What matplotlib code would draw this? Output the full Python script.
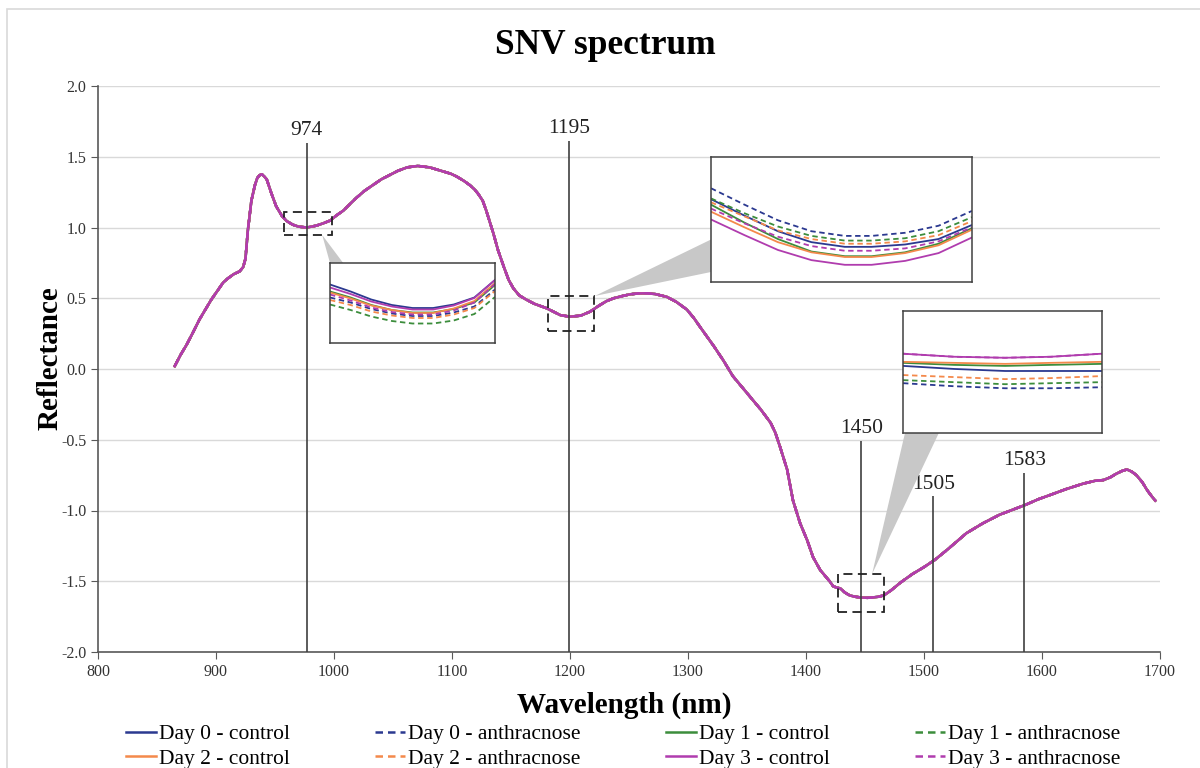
import numpy as np
import matplotlib.pyplot as plt
from matplotlib.patches import Rectangle, Polygon

plt.rcParams['font.family'] = ['Liberation Serif', 'DejaVu Serif']
plt.rcParams['axes.unicode_minus'] = False

# SNV spectrum (the eight series overlap at full scale)
wavelength = [865, 870, 875, 880, 886, 891, 896, 901, 906, 910, 915, 920, 923, 925, 927, 930,
              933, 935, 937, 939, 941, 943, 947, 951, 956, 960, 965, 970, 977, 985, 991, 997,
              1002, 1008, 1014, 1019, 1026, 1033, 1040, 1047, 1054, 1062, 1071, 1081, 1087,
              1093, 1099, 1104, 1110, 1115, 1119, 1122, 1126, 1129, 1132, 1135, 1139, 1144,
              1148, 1152, 1157, 1163, 1170, 1180, 1186, 1192, 1200, 1209, 1217, 1225, 1231,
              1237, 1244, 1251, 1258, 1265, 1272, 1282, 1290, 1299, 1305, 1310, 1316, 1322,
              1330, 1338, 1346, 1355, 1362, 1370, 1374, 1378, 1381, 1384, 1389, 1395, 1401,
              1406, 1412, 1417, 1420, 1423, 1426, 1429, 1433, 1437, 1442, 1447, 1452, 1456,
              1461, 1466, 1472, 1480, 1490, 1500, 1509, 1520, 1536, 1550, 1564, 1575, 1586,
              1597, 1607, 1620, 1635, 1645, 1652, 1658, 1663, 1668, 1672, 1676, 1680, 1685,
              1689, 1693, 1696]
snv = [0.02, 0.10, 0.17, 0.25, 0.35, 0.42, 0.49, 0.55, 0.61, 0.64, 0.67, 0.69, 0.72, 0.78, 0.98,
       1.19, 1.30, 1.35, 1.37, 1.375, 1.36, 1.34, 1.24, 1.15, 1.08, 1.045, 1.02, 1.006, 1.0,
       1.013, 1.03, 1.05, 1.085, 1.12, 1.17, 1.21, 1.26, 1.30, 1.34, 1.37, 1.40, 1.425, 1.435,
       1.425, 1.41, 1.395, 1.38, 1.36, 1.33, 1.30, 1.27, 1.24, 1.19, 1.12, 1.04, 0.96, 0.84,
       0.72, 0.63, 0.57, 0.52, 0.49, 0.46, 0.43, 0.405, 0.38, 0.37, 0.377, 0.405, 0.45, 0.48,
       0.50, 0.515, 0.528, 0.534, 0.535, 0.53, 0.51, 0.475, 0.42, 0.36, 0.30, 0.23, 0.16,
       0.06, -0.05, -0.13, -0.22, -0.29, -0.38, -0.45, -0.55, -0.63, -0.71, -0.93, -1.09, -1.21,
       -1.33, -1.42, -1.47, -1.50, -1.535, -1.545, -1.55, -1.58, -1.60, -1.61, -1.615, -1.617,
       -1.615, -1.61, -1.60, -1.565, -1.51, -1.45, -1.40, -1.35, -1.275, -1.16, -1.09, -1.03,
       -0.995, -0.96, -0.92, -0.89, -0.85, -0.81, -0.79, -0.785, -0.765, -0.74, -0.72, -0.71,
       -0.725, -0.75, -0.80, -0.855, -0.90, -0.93]

series = ['Day 0 - control', 'Day 0 - anthracnose', 'Day 1 - control', 'Day 1 - anthracnose',
          'Day 2 - control', 'Day 2 - anthracnose', 'Day 3 - control', 'Day 3 - anthracnose']
colors = ['#2b3990', '#2b3990', '#3c8d3c', '#3c8d3c', '#f4894b', '#f4894b', '#b03cae', '#b03cae']
styles = ['-', (0, (3, 2)), '-', (0, (3, 2)), '-', (0, (3, 2)), '-', (0, (3, 2))]

# marked bands
peak_labels = ['974', '1195', '1450', '1505', '1583']
peak_pos = [977, 1199, 1447, 1508, 1585]
peak_top = [1.60, 1.61, -0.51, -0.90, -0.735]

# zoomed details (same series order as above)
z1_x = [958, 963, 968, 973, 978, 983, 988, 993, 998]
z1_y = [
    [1.067, 1.053, 1.037, 1.026, 1.020, 1.020, 1.027, 1.041, 1.076],
    [1.041, 1.031, 1.018, 1.009, 1.004, 1.004, 1.011, 1.023, 1.057],
    [1.053, 1.041, 1.026, 1.016, 1.011, 1.011, 1.018, 1.031, 1.066],
    [1.027, 1.016, 1.003, 0.994, 0.989, 0.989, 0.995, 1.008, 1.042],
    [1.051, 1.039, 1.025, 1.016, 1.010, 1.010, 1.019, 1.034, 1.070],
    [1.036, 1.026, 1.013, 1.005, 1.000, 1.000, 1.007, 1.020, 1.054],
    [1.061, 1.048, 1.033, 1.023, 1.017, 1.017, 1.025, 1.040, 1.076],
    [1.047, 1.035, 1.021, 1.012, 1.007, 1.007, 1.015, 1.031, 1.068],
]
z2_x = [1182, 1187, 1192, 1197, 1202, 1206, 1211, 1216, 1221]
z2_y = [
    [0.436, 0.415, 0.395, 0.381, 0.375, 0.375, 0.378, 0.385, 0.403],
    [0.450, 0.429, 0.409, 0.395, 0.389, 0.389, 0.393, 0.402, 0.421],
    [0.429, 0.406, 0.385, 0.369, 0.363, 0.363, 0.368, 0.379, 0.399],
    [0.437, 0.418, 0.401, 0.389, 0.383, 0.383, 0.386, 0.395, 0.413],
    [0.420, 0.400, 0.381, 0.368, 0.362, 0.362, 0.367, 0.377, 0.397],
    [0.432, 0.414, 0.396, 0.385, 0.379, 0.379, 0.382, 0.390, 0.408],
    [0.410, 0.390, 0.371, 0.358, 0.352, 0.352, 0.357, 0.367, 0.387],
    [0.424, 0.405, 0.388, 0.376, 0.370, 0.370, 0.373, 0.382, 0.400],
]
z3_x = [1427, 1437, 1447, 1456, 1466]
z3_y = [
    [-1.614, -1.617, -1.619, -1.619, -1.619],
    [-1.631, -1.634, -1.636, -1.636, -1.635],
    [-1.611, -1.613, -1.614, -1.613, -1.612],
    [-1.628, -1.630, -1.632, -1.631, -1.630],
    [-1.610, -1.611, -1.612, -1.611, -1.610],
    [-1.623, -1.625, -1.627, -1.626, -1.624],
    [-1.602, -1.605, -1.606, -1.605, -1.602],
    [-1.602, -1.605, -1.606, -1.605, -1.602],
]

W, H = 1200, 768
fig = plt.figure(figsize=(12, 7.68), dpi=100)

def fbox(x0, y0, x1, y1):
    # pixel box -> figure fraction
    return [x0 / W, 1 - y1 / H, (x1 - x0) / W, (y1 - y0) / H]

ax = fig.add_axes(fbox(98, 86, 1160, 652))

for i in range(len(series)):
    ax.plot(wavelength, snv, color=colors[i], linestyle=styles[i], lw=1.8, label=series[i])

ax.set_xlim(800, 1700)
ax.set_ylim(-2, 2)
ax.set_xticks(range(800, 1701, 100))
ax.set_yticks(np.arange(-2, 2.01, 0.5))
ax.yaxis.set_major_formatter('{x:.1f}')
ax.grid(axis='y', color='#d9d9d9', lw=1)
ax.set_axisbelow(True)
for s in ['top', 'right']:
    ax.spines[s].set_visible(False)
for s in ['left', 'bottom']:
    ax.spines[s].set_color('#595959')
    ax.spines[s].set_linewidth(1.2)
ax.tick_params(direction='out', length=5, color='#595959', labelsize=11.5, labelcolor='#333333')

for lab, xp, top in zip(peak_labels, peak_pos, peak_top):
    ax.vlines(xp, -2, top, color='#404040', lw=1.2, zorder=3)
    ax.text(xp, top + 0.02, lab, ha='center', va='bottom', fontsize=15.5, color='#222222')

# dashed boxes and insets
zooms = [
    dict(rect=(958, 0.947, 998, 1.11), box=(330, 263, 495, 343), ylim=(0.95, 1.11),
         x=z1_x, y=z1_y, apex=(990, 0.947), edge='top', span=(0.0, 0.08)),
    dict(rect=(1181, 0.27, 1220, 0.516), box=(711, 157, 972, 282), ylim=(0.33, 0.49),
         x=z2_x, y=z2_y, apex=(1221, 0.516), edge='left', span=(0.08, 0.34)),
    dict(rect=(1427, -1.717, 1466, -1.449), box=(903, 311, 1102, 433), ylim=(-1.68, -1.56),
         x=z3_x, y=z3_y, apex=(1456, -1.449), edge='bottom', span=(0.01, 0.18)),
]

inv = fig.transFigure.inverted()
for z in zooms:
    x0, y0, x1, y1 = z['rect']
    ax.add_patch(Rectangle((x0, y0), x1 - x0, y1 - y0, fill=False, ec='#222222',
                           lw=1.3, ls=(0, (5, 3)), zorder=4))
    ins = fig.add_axes(fbox(*z['box']), zorder=5)
    for i in range(len(series)):
        ins.plot(z['x'], z['y'][i], color=colors[i], linestyle=styles[i], lw=1.3)
    ins.set_xlim(z['x'][0], z['x'][-1])
    ins.set_ylim(*z['ylim'])
    ins.set_xticks([])
    ins.set_yticks([])
    for sp in ins.spines.values():
        sp.set_color('#404040')
        sp.set_linewidth(1.1)

    # grey wedge from the dashed box to the inset
    ap = inv.transform(ax.transData.transform(z['apex']))
    p = ins.get_position()
    a, b = z['span']
    if z['edge'] == 'top':
        base = [(p.x0 + a * p.width, p.y1), (p.x0 + b * p.width, p.y1)]
    elif z['edge'] == 'bottom':
        base = [(p.x0 + a * p.width, p.y0), (p.x0 + b * p.width, p.y0)]
    else:
        base = [(p.x0, p.y0 + a * p.height), (p.x0, p.y0 + b * p.height)]
    fig.patches.append(Polygon([tuple(ap)] + base, closed=True, transform=fig.transFigure,
                               fc='#c8c8c8', ec='none', zorder=2))

fig.text(605 / W, 1 - 45 / H, 'SNV spectrum', ha='center', va='center', fontsize=25.5, weight='bold')
fig.text(624 / W, 1 - 705 / H, 'Wavelength (nm)', ha='center', va='center', fontsize=21, weight='bold')
fig.text(50 / W, 1 - 358 / H, 'Reflectance', ha='center', va='center', fontsize=21,
         weight='bold', rotation=90)

# legend is filled column by column, so interleave to get the row order
handles, labels = ax.get_legend_handles_labels()
order = [0, 4, 1, 5, 2, 6, 3, 7]
fig.legend([handles[i] for i in order], [labels[i] for i in order], ncol=4, loc='upper left',
           mode='expand', bbox_to_anchor=(126 / W, 1 - 725 / H, 994 / W, 0.001), frameon=False,
           fontsize=15.5, handlelength=1.4, handletextpad=0.12, labelspacing=0.2,
           borderpad=0, borderaxespad=0)

# light frame around the figure
fig.patches.append(Rectangle((7 / W, -0.1), 1.2, 1.1 - 9 / H, transform=fig.transFigure,
                             fill=False, ec='#d9d9d9', lw=1.2, zorder=0))

fig.savefig('out.png', dpi=100)
